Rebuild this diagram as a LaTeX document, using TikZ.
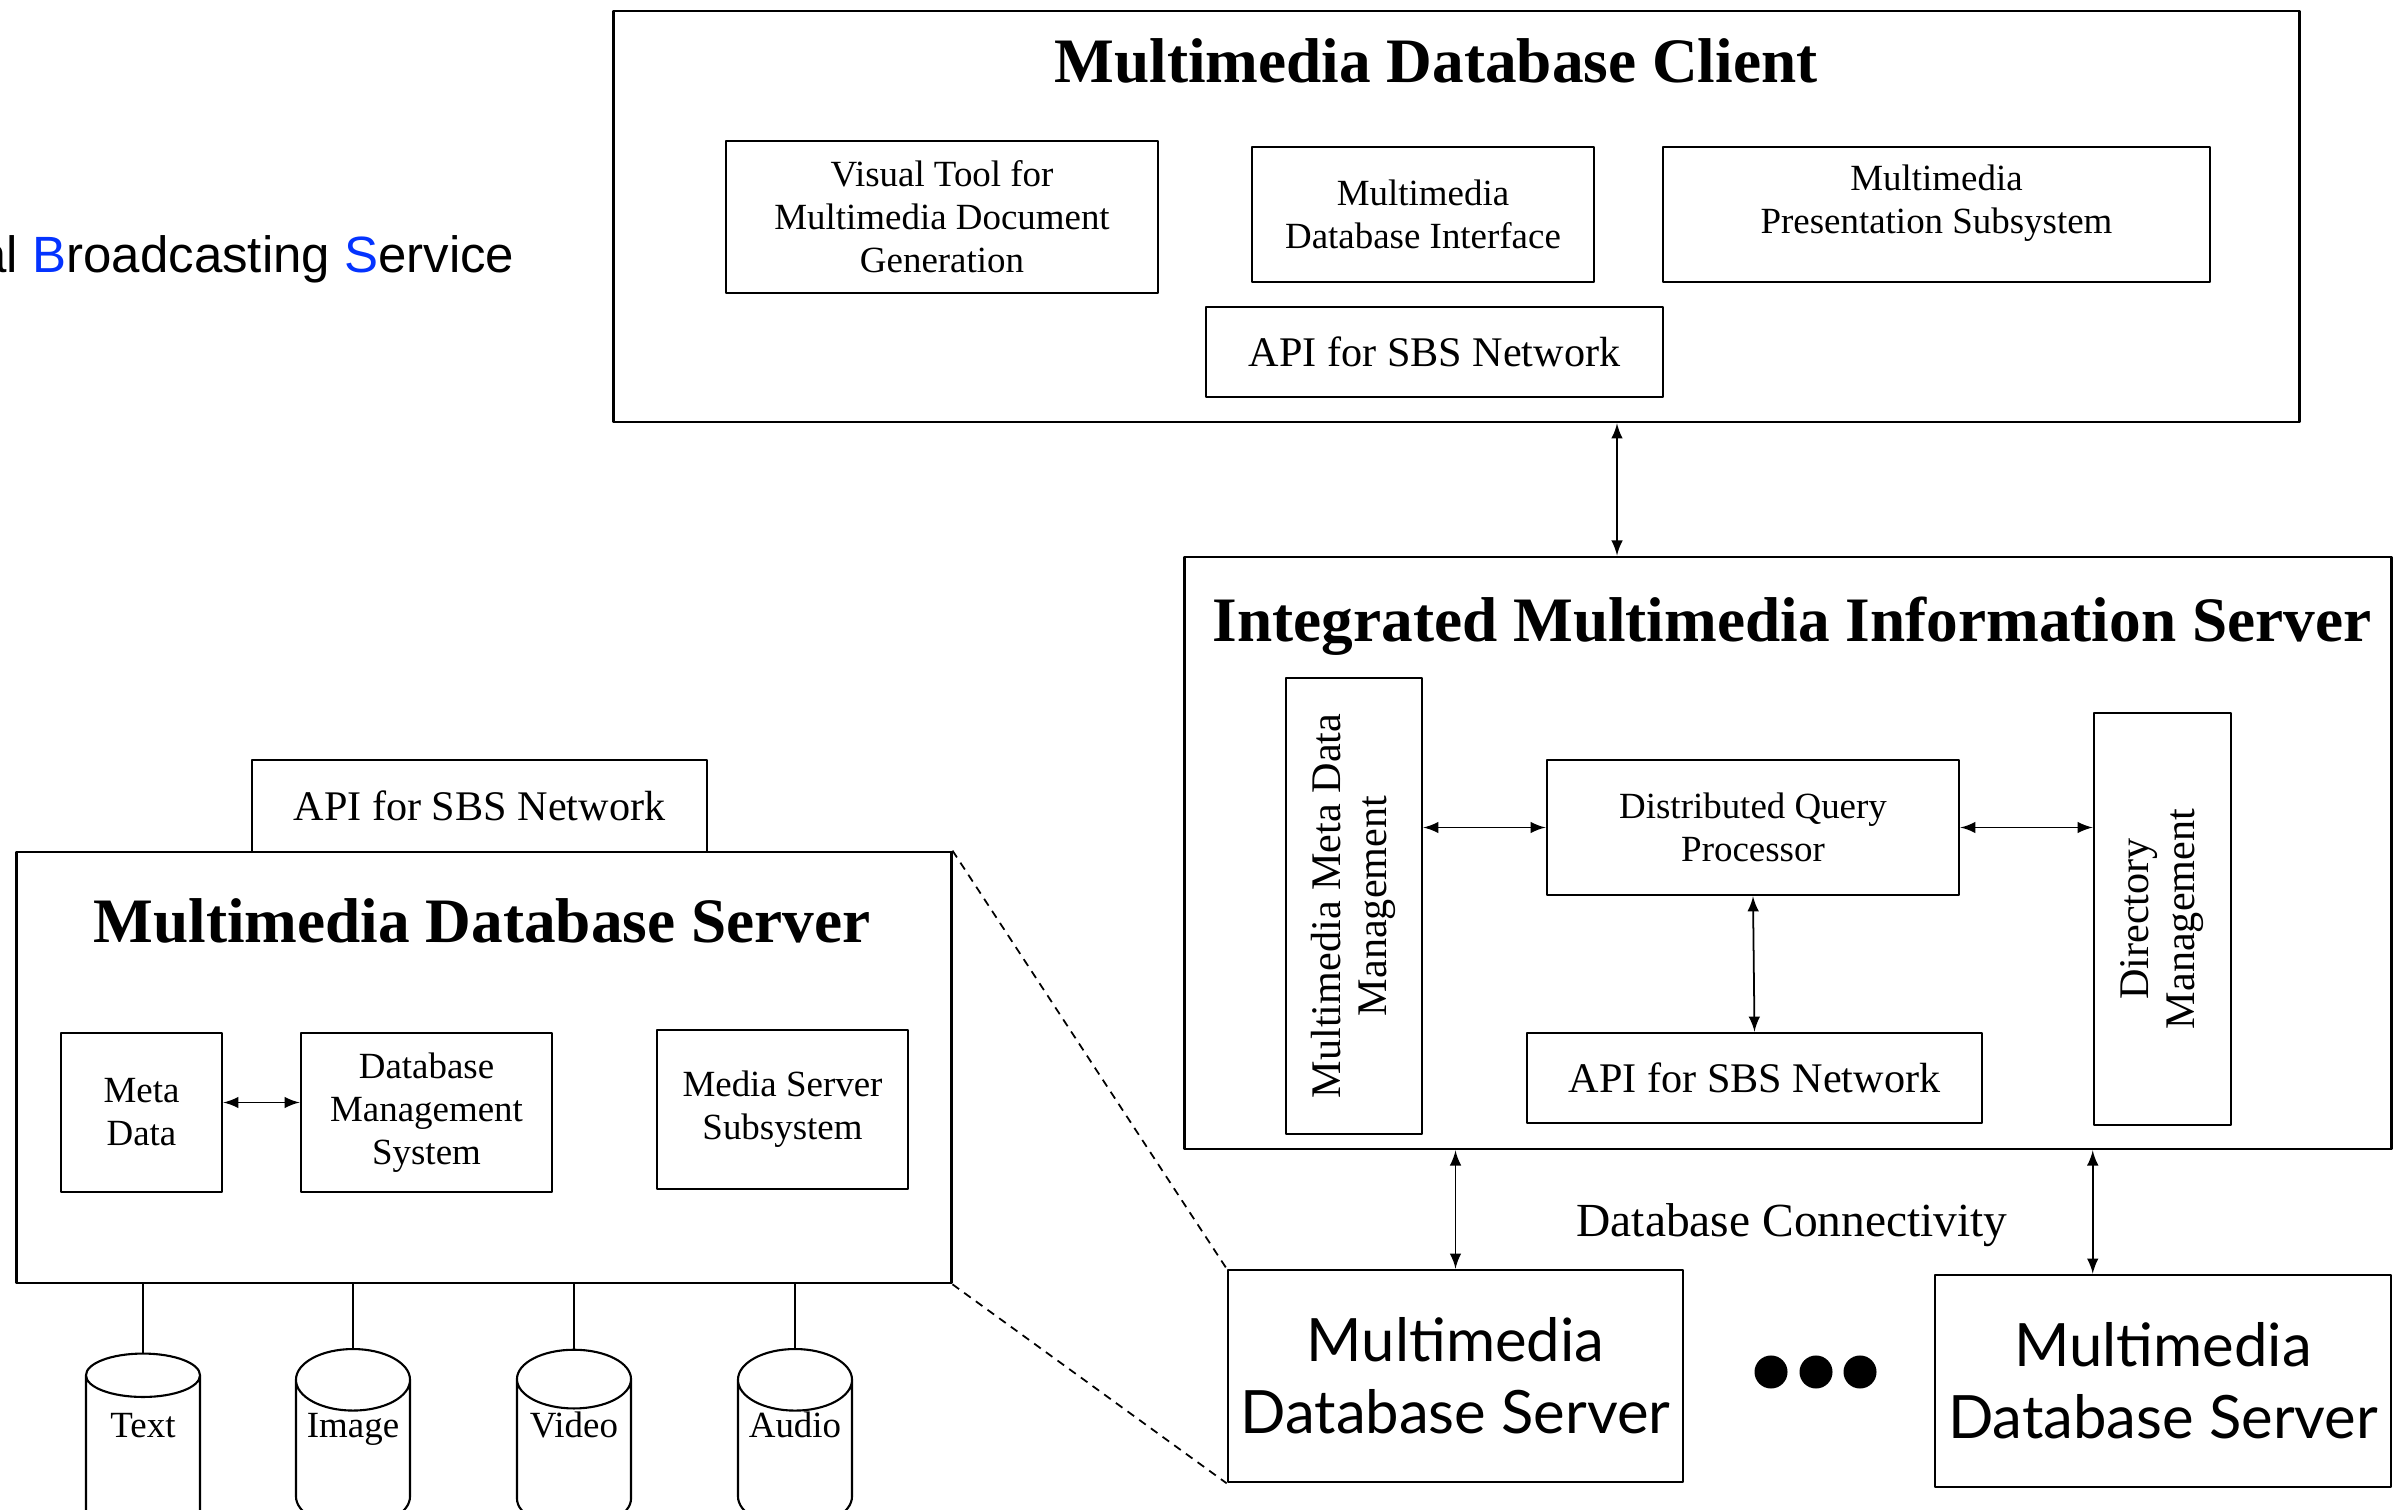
\documentclass[tikz,border=0pt]{standalone}
\usepackage{fontspec}
\usepackage{graphicx}
\setmainfont{Liberation Serif}
\newfontfamily\lowserverfont{Lato}
\newfontfamily\captionfont{Liberation Sans}
\usetikzlibrary{shapes.geometric}
\definecolor{sbsblue}{RGB}{4,51,255}
\tikzset{
  frame/.style={draw,line width=0.7pt,inner sep=0pt},
  box/.style={draw,line width=0.7pt,inner sep=0pt,align=center,font=\fontsize{10.5}{12.2}\selectfont},
  apibox/.style={box,font=\fontsize{12}{14}\selectfont},
  vbox/.style={box,font=\fontsize{12}{13}\selectfont},
  heading/.style={font=\bfseries\fontsize{18}{21}\selectfont},
  lowserver/.style={draw,line width=0.7pt,inner sep=0pt,align=center,font=\lowserverfont\fontsize{17}{20.5}\selectfont},
  dbcyl/.style={draw,line width=0.6pt,cylinder,shape border rotate=90,aspect=0.667,inner sep=0pt,
    minimum width=1.14cm,minimum height=1.78cm,text height=7pt,text depth=16.4pt,font=\fontsize{10.5}{12}\selectfont},
  link/.style={<->,line width=0.5pt},
}
\begin{document}
\begin{tikzpicture}[>=latex,line join=bevel,x=0.01cm,y=-0.01cm]
\useasboundingbox (0,0) rectangle (2406,1510);
%%
\node (sbs_caption) at (515,273) [anchor=base east,inner sep=0pt,font=\captionfont\fontsize{14.5}{17}\selectfont]
  {al \textcolor{sbsblue}{B}roadcasting \textcolor{sbsblue}{S}ervice};
%% client
\node (db_client) at (1456.5,216.5) [frame,minimum width=16.85cm,minimum height=4.11cm] {};
\node (client_title) at (1436,61) [heading] {Multimedia Database Client};
\node (vis_tool) at (942,217) [box,minimum width=4.32cm,minimum height=1.52cm] {Visual Tool for\\Multimedia Document\\Generation};
\node (db_iface) at (1423,214.5) [box,minimum width=3.42cm,minimum height=1.35cm] {Multimedia\\Database Interface};
\node (pres_sub) at (1936.5,214.5) [box,minimum width=5.47cm,minimum height=1.35cm,text depth=8.5pt] {Multimedia\\Presentation Subsystem};
\node (client_api) at (1434.5,352) [apibox,minimum width=4.57cm,minimum height=0.90cm] {API for SBS Network};
%% information server
\node (info_server) at (1788,853) [frame,minimum width=12.06cm,minimum height=5.92cm] {};
\node (info_title) at (1792,626) [heading] {Integrated Multimedia Information Server};
\node (meta_mgmt) at (1354,906) [vbox,minimum width=1.36cm,minimum height=4.56cm]
  {\rotatebox{90}{\begin{tabular}{@{}c@{}}Multimedia Meta Data\\Management\end{tabular}}};
\node (qry_proc) at (1753,827.5) [box,minimum width=4.12cm,minimum height=1.35cm] {Distributed Query\\Processor};
\node (dir_mgmt) at (2162.5,919) [vbox,minimum width=1.37cm,minimum height=4.12cm]
  {\rotatebox{90}{\begin{tabular}{@{}c@{}}Directory\\Management\end{tabular}}};
\node (server_api) at (1754.5,1078) [apibox,minimum width=4.55cm,minimum height=0.90cm] {API for SBS Network};
\draw [link] (db_client.south -| 1617,0) -- (info_server.north -| 1617,0);
\draw [link] (meta_mgmt.east |- qry_proc.west) -- (qry_proc.west);
\draw [link] (qry_proc.east) -- (qry_proc.east -| dir_mgmt.west);
\draw [link] (qry_proc.south) -- (server_api.north);
%% database servers
\node (conn_label) at (1792,1225) [font=\fontsize{13.5}{16}\selectfont] {Database Connectivity};
\node (mds_a) at (1455.5,1376) [lowserver,minimum width=4.55cm,minimum height=2.12cm] {Multimedia\\Database Server};
\node (mds_b) at (2163,1381) [lowserver,minimum width=4.56cm,minimum height=2.12cm] {Multimedia\\Database Server};
\foreach \i/\x in {1/1771,2/1816,3/1860}
  \node (dot_\i) at (\x,1372) [circle,fill,inner sep=0pt,minimum size=0.33cm] {};
\draw [link] (mds_a.north |- info_server.south) -- (mds_a.north);
\draw [link] (dir_mgmt.west |- info_server.south) -- (dir_mgmt.west |- mds_b.north);
%% multimedia database server
\node (left_api) at (479.5,806) [apibox,minimum width=4.55cm,minimum height=0.92cm] {API for SBS Network};
\node (mm_server) at (484,1067.5) [frame,minimum width=9.34cm,minimum height=4.31cm] {};
\node (mm_title) at (482,921) [heading] {Multimedia Database Server};
\node (meta_data) at (141.5,1112.5) [box,minimum width=1.61cm,minimum height=1.59cm] {Meta\\Data};
\node (dbms) at (426.5,1112.5) [box,minimum width=2.51cm,minimum height=1.59cm] {Database\\Management\\System};
\node (media_sub) at (782.5,1109.5) [box,minimum width=2.51cm,minimum height=1.59cm] {Media Server\\Subsystem};
\draw [link] ([yshift=0.1cm]meta_data.east) -- ([yshift=0.1cm]dbms.west);
\node (cyl_text) at (143,1454) [dbcyl] {Text};
\node (cyl_image) at (353,1454) [dbcyl] {Image};
\node (cyl_video) at (574,1454) [dbcyl] {Video};
\node (cyl_audio) at (795,1454) [dbcyl] {Audio};
\foreach \c in {cyl_text,cyl_image,cyl_video,cyl_audio}
  \draw [line width=0.5pt] (\c.north |- mm_server.south) -- (\c.north);
\draw [dash pattern=on 2.3pt off 1.8pt,line width=0.5pt] (mm_server.north east) -- (mds_a.north west);
\draw [dash pattern=on 2.3pt off 1.8pt,line width=0.5pt] (mm_server.south east) -- (mds_a.south west);
%
\end{tikzpicture}
\end{document}
